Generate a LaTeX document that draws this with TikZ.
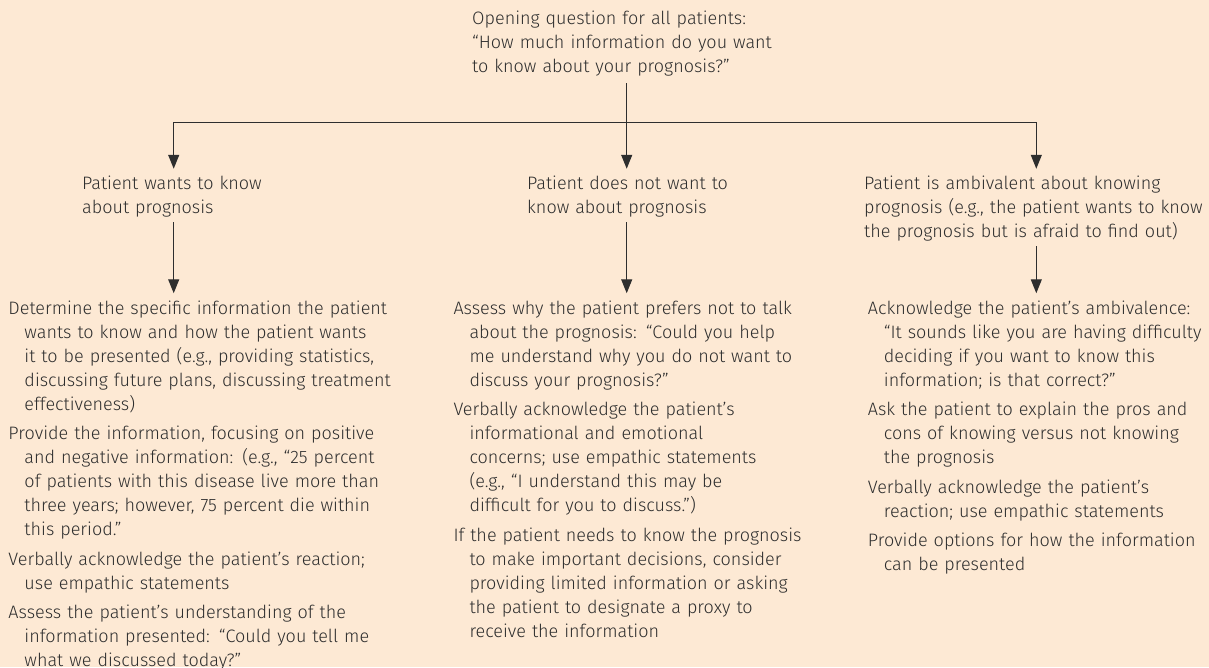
\documentclass[tikz,border=0pt]{standalone}
\usepackage{fontspec}
\setmainfont{Fira Sans}[UprightFont=* Light]
\usetikzlibrary{positioning,arrows.meta}
\definecolor{peach}{HTML}{FDE9D4}
\definecolor{ink}{HTML}{2E2E2E}
\newcommand{\entry}[1]{\hangindent=16pt\hangafter=1 #1\par}

\begin{document}
\begin{tikzpicture}[x=1pt,y=-1pt,
  txt/.style={anchor=base west,inner sep=0pt,align=left,text=ink,
    font=\fontsize{18}{24}\selectfont},
  list/.style={txt,execute at begin node={\setlength{\parskip}{5.5pt}}},
  link/.style={draw=ink,line width=1.2pt},
  arr/.style={link,-{Triangle[length=14pt,width=11pt]},shorten >=7pt,shorten <=5pt}
]
\useasboundingbox[fill=peach] (0,0) rectangle (1209,667);

\node[txt,text width=340pt] (ask) at (472,24.5)
  {Opening question for all patients:\\ “How much information do you want\\ to know about your prognosis?”};

\node[txt,text width=300pt] (want) at (82,189.5)
  {Patient wants to know\\ about prognosis};
\node[txt,text width=300pt] (nowant) at (527,189.5)
  {Patient does not want to\\ know about prognosis};
\node[txt,text width=360pt] (ambi) at (864,189.5)
  {Patient is ambivalent about knowing\\ prognosis (e.g., the patient wants to know\\ the prognosis but is afraid to find out)};

\node[list,text width=440pt] (wantdo) at (8.3,314) {%
  \entry{Determine the specific information the patient\newline wants to know and how the patient wants\newline it to be presented (e.g., providing statistics,\newline discussing future plans, discussing treatment\newline effectiveness)}
  \entry{Provide the information, focusing on positive\newline and negative information: (e.g., “25 percent\newline of patients with this disease live more than\newline three years; however, 75 percent die within\newline this period.”}
  \entry{Verbally acknowledge the patient’s reaction;\newline use empathic statements}
  \entry{Assess the patient’s understanding of the\newline information presented: “Could you tell me\newline what we discussed today?”}};
\node[list,text width=400pt] (nowantdo) at (453.3,314) {%
  \entry{Assess why the patient prefers not to talk\newline about the prognosis: “Could you help\newline me understand why you do not want to\newline discuss your prognosis?”}
  \entry{Verbally acknowledge the patient’s\newline informational and emotional\newline concerns; use empathic statements\newline (e.g., “I understand this may be\newline difficult for you to discuss.”)}
  \entry{If the patient needs to know the prognosis\newline to make important decisions, consider\newline providing limited information or asking\newline the patient to designate a proxy to\newline receive the information}};
\node[list,text width=360pt] (ambido) at (867.7,314) {%
  \entry{Acknowledge the patient’s ambivalence:\newline “It sounds like you are having difficulty\newline deciding if you want to know this\newline information; is that correct?”}
  \entry{Ask the patient to explain the pros and\newline cons of knowing versus not knowing\newline the prognosis}
  \entry{Verbally acknowledge the patient’s\newline reaction; use empathic statements}
  \entry{Provide options for how the information\newline can be presented}};

% fork under the opening question
\coordinate (stem) at (626.7,83);
\coordinate (jl) at (173.7,122.7);
\coordinate (jr) at (1036.3,122.7);
\draw[link,{Triangle[length=14pt,width=11pt]}-{Triangle[length=14pt,width=11pt]},
  shorten <=7pt,shorten >=7pt] (jl |- want.north) -- (jl) -- (jr) -- (jr |- ambi.north);
\draw[arr,shorten <=0pt] (stem) -- (stem |- nowant.north);

% branch to actions
\draw[arr] (jl |- want.south) -- (jl |- wantdo.north);
\draw[arr] (stem |- nowant.south) -- (stem |- nowantdo.north);
\draw[arr] (jr |- ambi.south) -- (jr |- ambido.north);
\end{tikzpicture}
\end{document}
